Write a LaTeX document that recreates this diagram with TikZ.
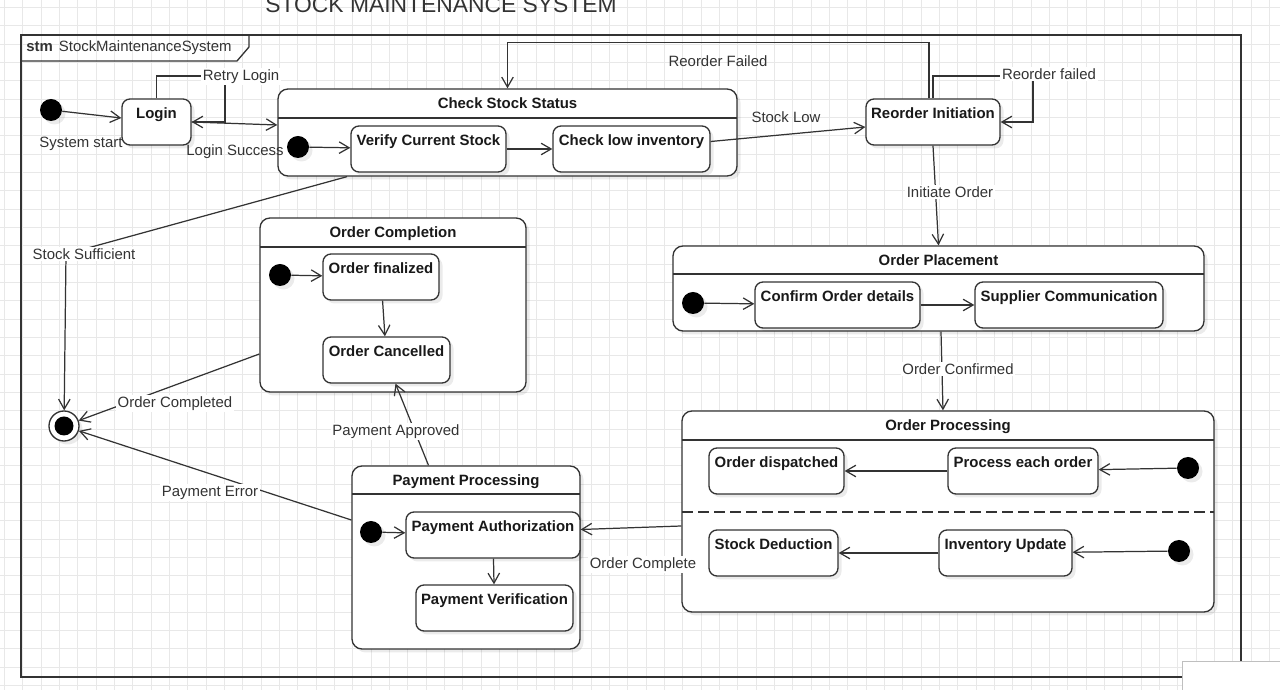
\documentclass[tikz,border=0pt]{standalone}
\usepackage{fontspec}
\setmainfont{Liberation Sans}
\usetikzlibrary{arrows.meta,fit,shadows}
\definecolor{ink}{HTML}{333333}
\begin{document}
\begin{tikzpicture}[x=0.2mm,y=-0.2mm,
  every node/.style={font=\fontsize{8.5}{10}\selectfont, text=ink},
  gridline/.style={black!9, line width=0.4pt},
  line/.style={draw=ink, line width=0.75pt},
  tr/.style={draw=ink, line width=0.7pt, -{Straight Barb[length=2mm,width=2.3mm]}},
  soft/.style={drop shadow={shadow xshift=0.7mm, shadow yshift=-0.7mm, opacity=0.08, fill=black}},
  state/.style={draw=ink, line width=0.75pt, fill=white, rounded corners=1.6mm, inner sep=0, soft},
  stname/.style={anchor=base, yshift=-4mm, font=\fontsize{8.5}{10}\selectfont\bfseries, text=black!90},
  start/.style={circle, fill=black, minimum size=4.4mm, inner sep=0, soft},
  stop/.style={circle, draw=ink, line width=0.75pt, fill=white, minimum size=6mm, inner sep=0, soft,
    path picture={\fill[black] (path picture bounding box.center) circle (1.9mm);}},
  lbl/.style={anchor=base, yshift=-1.1mm},
  elabel/.style={lbl, fill=white, inner sep=1pt},
]
\useasboundingbox (0,0) rectangle (1280,690);
\clip (0,0) rectangle (1280,690);
% background grid
\foreach \i in {0,...,69} \draw[gridline] ({4.4+18.33*\i},0) -- ({4.4+18.33*\i},690);
\foreach \j in {0,...,37} \draw[gridline] (0,{7.3+18.33*\j}) -- (1280,{7.3+18.33*\j});
\node[anchor=base, font=\fontsize{13}{15}\selectfont] (title) at (441,12.7) {STOCK MAINTENANCE SYSTEM};
% frame
\draw[line] (21,35) rectangle (1241,677);
\draw[line] (21,61) -- (237,61) -- (249,47) -- (249,35);
\node[anchor=west, inner sep=0] (stm) at (26,47.5) {\textbf{stm}\hspace{3.4pt}StockMaintenanceSystem};
\draw[black!25, fill=white] (1182,661) rectangle (1290,700);

% top row
\node[start] (init) at (51,110) {};
\node[state, fit={(122,99) (191,145)}, label={[stname]north:Login}] (login) {};
\node[state, rounded corners=2mm, fit={(278,89) (737,176)}, label={[stname]north:Check Stock Status}] (css) {};
\draw[line] (278,118) -- (737,118);
\node[start] (i-css) at (298,147) {};
\node[state, fit={(351,126) (506,172)}, label={[stname]north:Verify Current Stock}] (verify) {};
\node[state, fit={(553,126) (710,172)}, label={[stname]north:Check low inventory}] (lowinv) {};
\node[state, fit={(866,99) (1000,145)}, label={[stname]north:Reorder Initiation}] (reorder) {};

% order completion
\node[state, rounded corners=2mm, fit={(260,218) (526,392)}, label={[stname]north:Order Completion}] (completion) {};
\draw[line] (260,247) -- (526,247);
\node[start] (i-compl) at (280,275) {};
\node[state, fit={(323,254) (439,300)}, label={[stname]north:Order finalized}] (finalized) {};
\node[state, fit={(323,337) (450,383)}, label={[stname]north:Order Cancelled}] (cancelled) {};

% order placement
\node[state, rounded corners=2mm, fit={(673,246) (1204,331)}, label={[stname]north:Order Placement}] (placement) {};
\draw[line] (673,274) -- (1204,274);
\node[start] (i-place) at (693,303) {};
\node[state, fit={(755,282) (920,328)}, label={[stname]north:Confirm Order details}] (confirm) {};
\node[state, fit={(975,282) (1163,328)}, label={[stname]north:Supplier Communication}] (supplier) {};

% order processing
\node[state, rounded corners=2mm, fit={(682,411) (1214,612)}, label={[stname]north:Order Processing}] (processing) {};
\draw[line] (682,440) -- (1214,440);
\draw[line, line width=0.9pt, dash pattern=on 2.2mm off 1mm] (682,512) -- (1214,512);
\node[start] (i-proc1) at (1188,468) {};
\node[state, fit={(709,448) (844,494)}, label={[stname]north:Order dispatched}] (dispatched) {};
\node[state, fit={(948,448) (1098,494)}, label={[stname]north:Process each order}] (processeach) {};
\node[start] (i-proc2) at (1179,551) {};
\node[state, fit={(709,530) (838,576)}, label={[stname]north:Stock Deduction}] (deduction) {};
\node[state, fit={(939,530) (1072,576)}, label={[stname]north:Inventory Update}] (invupdate) {};

% payment processing
\node[state, rounded corners=2mm, fit={(352,466) (580,649)}, label={[stname]north:Payment Processing}] (payment) {};
\draw[line] (352,494) -- (580,494);
\node[start] (i-pay) at (371,532) {};
\node[state, fit={(406,512) (580,558)}, label={[stname]north:Payment Authorization}] (auth) {};
\node[state, fit={(416,585) (573,631)}, label={[stname]north:Payment Verification}] (verif) {};

\node[stop] (final) at (64,426) {};

% transitions
\draw[tr] (init) -- (login);
\draw[tr] (login.north) |- (225,76) |- (login.east);
\draw[tr] (login.east) -- ([yshift=1.5mm]css.west);
\draw[tr] (i-css) -- (verify);
\draw[tr] (verify) -- (lowinv);
\draw[tr] ([yshift=1.5mm]lowinv.east) -- ([yshift=-1mm]reorder.west);
\draw[tr] ([xshift=-0.8mm]reorder.north) -- ++(0,-56) -| (css.north);
\draw[tr] (reorder.north) |- (1033,76) |- (reorder.east);
\draw[tr] (reorder.south) -- (placement.north);
\draw[tr] (i-place) -- (confirm);
\draw[tr] (confirm) -- (supplier);
\draw[tr] ([xshift=0.5mm]placement.south) -- ([xshift=-1mm]processing.north);
\draw[tr] (i-proc1) -- (processeach);
\draw[tr] (processeach) -- (dispatched);
\draw[tr] (i-proc2) -- (invupdate);
\draw[tr] (invupdate) -- (deduction);
\draw[tr] ([yshift=-2.9mm]processing.west) -- ([yshift=1.1mm]auth.east);
\draw[tr] (i-pay) -- (auth);
\draw[tr] (auth) -- (verif);
\draw[tr] ([xshift=-7.5mm]payment.north) -- ([xshift=1.8mm]cancelled.south);
\draw[tr] ([yshift=7.5mm]payment.west) -- (final);
\draw[tr] ([yshift=-9.8mm]completion.west) -- (final);
\draw[tr] ([xshift=-32.1mm]css.south) -- (66,254) -- (final);
\draw[tr] (i-compl) -- (finalized);
\draw[tr] (finalized) -- (cancelled);

% transition labels
\node[lbl] (l-start) at (81,142) {System start};
\node[elabel] (l-retry) at (241,75) {Retry Login};
\node[lbl] (l-success) at (235,150) {Login Success};
\node[lbl] (l-rfailed) at (718,61) {Reorder Failed};
\node[lbl] (l-low) at (786,117) {Stock Low};
\node[elabel] (l-rfailed2) at (1049,74) {Reorder failed};
\node[elabel] (l-initiate) at (950,192) {Initiate Order};
\node[elabel] (l-sufficient) at (84,254) {Stock Sufficient};
\node[elabel] (l-completed) at (175,402) {Order Completed};
\node[elabel] (l-approved) at (396,430) {Payment Approved};
\node[elabel] (l-error) at (210,491) {Payment Error};
\node[elabel] (l-complete) at (643,563) {Order Complete};
\node[elabel] (l-confirmed) at (958,369) {Order Confirmed};
\end{tikzpicture}
\end{document}
